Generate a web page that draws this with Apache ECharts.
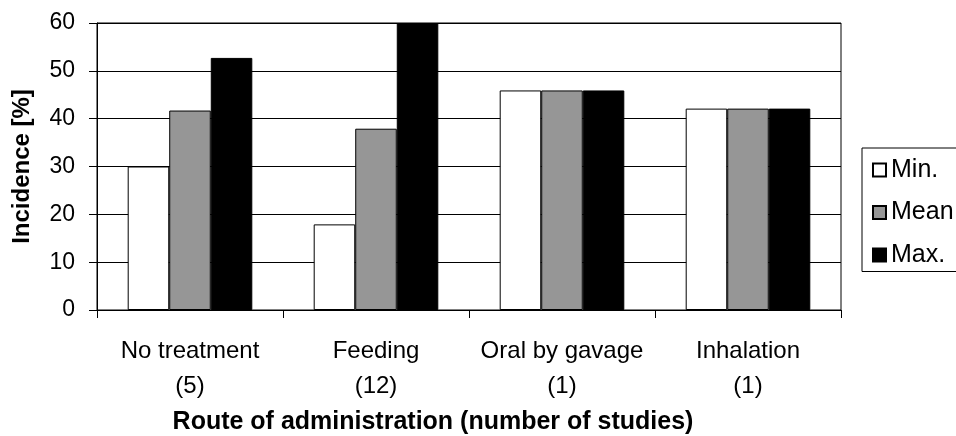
<!DOCTYPE html>
<html>
<head>
<meta charset="utf-8">
<script src="https://cdn.jsdelivr.net/npm/echarts@6/dist/echarts.min.js"></script>
<style>
html,body{margin:0;padding:0;background:#fff;}
#chart{width:956px;height:436px;}
</style>
</head>
<body>
<div id="chart"></div>
<script>
var categories = ['No treatment\n(5)', 'Feeding\n(12)', 'Oral by gavage\n(1)', 'Inhalation\n(1)'];
var minValues = [30, 17.9, 45.9, 42.1];
var meanValues = [41.7, 37.9, 45.9, 42.1];
var maxValues = [52.7, 60, 45.9, 42.1];
var yTicks = { min: 0, max: 60, interval: 10 };
var seriesNames = ['Min.', 'Mean', 'Max.'];
var xTitle = 'Route of administration (number of studies)';
var yTitle = 'Incidence [%]';

var FONT = '"Liberation Sans", Arial, sans-serif';
var chart = echarts.init(document.getElementById('chart'));
function barSeries(name, data, color) {
  return {
    name: name, type: 'bar', data: data,
    barGap: '0%', barCategoryGap: '33%',
    itemStyle: { color: color, borderColor: '#000', borderWidth: 1 },
    emphasis: { disabled: true }
  };
}
chart.setOption({
  backgroundColor: '#fff',
  animation: false,
  textStyle: { fontFamily: FONT, color: '#000' },
  grid: { left: 97, right: 115, top: 23, bottom: 126, show: true, borderColor: '#000', borderWidth: 1, backgroundColor: 'transparent' },
  legend: {
    orient: 'vertical', left: 862, top: 148,
    padding: [9.5, 60, 4, 10],
    itemGap: 17.5, itemWidth: 13, itemHeight: 13,
    borderColor: '#000', borderWidth: 1,
    textStyle: { fontFamily: FONT, fontSize: 25, color: '#000', lineHeight: 25 },
    data: seriesNames.map(function (n) { return { name: n, icon: 'rect' }; })
  },
  xAxis: {
    type: 'category', data: categories,
    axisLine: { lineStyle: { color: '#000', width: 1 } },
    axisTick: { show: true, length: 8, lineStyle: { color: '#000' } },
    axisLabel: { interval: 0, fontFamily: FONT, fontSize: 24, color: '#000', lineHeight: 35, margin: 24 },
    splitLine: { show: false }
  },
  yAxis: {
    type: 'value', min: yTicks.min, max: yTicks.max, interval: yTicks.interval,
    name: yTitle, nameLocation: 'middle', nameGap: 63, nameRotate: 90,
    nameTextStyle: { fontFamily: FONT, fontSize: 24, fontWeight: 'bold', color: '#000' },
    axisLine: { show: true, lineStyle: { color: '#000', width: 1 } },
    axisTick: { show: true, length: 8, lineStyle: { color: '#000' } },
    axisLabel: { fontFamily: FONT, fontSize: 23, color: '#000', margin: 22 },
    splitLine: { show: true, lineStyle: { color: '#000', width: 1 } }
  },
  graphic: [{
    type: 'text', x: 433, y: 422,
    style: { text: xTitle, fontFamily: FONT, fontSize: 25, fontWeight: 'bold', fill: '#000', align: 'center', verticalAlign: 'middle' }
  }],
  series: [
    barSeries(seriesNames[0], minValues, '#ffffff'),
    barSeries(seriesNames[1], meanValues, '#969696'),
    barSeries(seriesNames[2], maxValues, '#000000')
  ]
});
</script>
</body>
</html>
